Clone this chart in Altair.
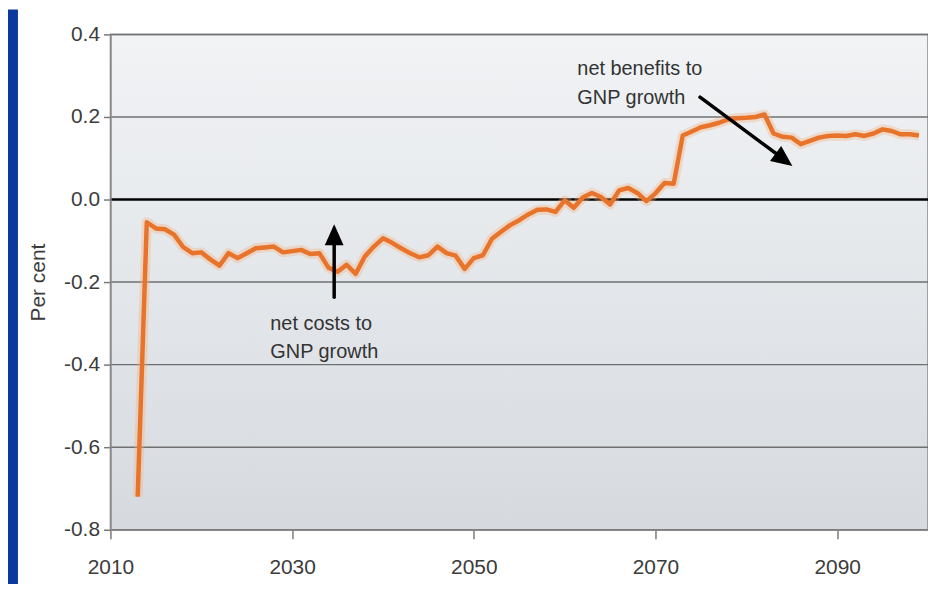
import altair as alt
import pandas as pd

# ---- data ----
years = list(range(2013, 2100))
values = [
    -0.72, -0.055, -0.070, -0.072, -0.085, -0.115, -0.130, -0.128, -0.145, -0.160,  # 2013-2022
    -0.130, -0.142, -0.130, -0.118, -0.116, -0.114, -0.128, -0.125, -0.122, -0.132,  # 2023-2032
    -0.130, -0.165, -0.175, -0.158, -0.180, -0.138, -0.114, -0.094, -0.105, -0.118,  # 2033-2042
    -0.130, -0.140, -0.135, -0.114, -0.130, -0.136, -0.168, -0.142, -0.135, -0.095,  # 2043-2052
    -0.078, -0.062, -0.050, -0.036, -0.025, -0.024, -0.030, -0.002, -0.020, 0.005,   # 2053-2062
    0.016, 0.006, -0.012, 0.022, 0.028, 0.016, -0.004, 0.015, 0.040, 0.038,          # 2063-2072
    0.155, 0.165, 0.175, 0.180, 0.186, 0.194, 0.197, 0.198, 0.200, 0.206,            # 2073-2082
    0.160, 0.152, 0.150, 0.134, 0.142, 0.150, 0.154, 0.155, 0.154, 0.158,            # 2083-2092
    0.154, 0.160, 0.170, 0.166, 0.158, 0.158, 0.155,                                 # 2093-2099
]

x_ticks = [2010, 2030, 2050, 2070, 2090]
y_ticks = [-0.8, -0.6, -0.4, -0.2, 0.0, 0.2, 0.4]
grid_values = [-0.8, -0.6, -0.4, -0.2, 0.2, 0.4]

ann_text = ["net costs to", "GNP growth", "net benefits to", "GNP growth"]
ann_x = [2027.6, 2027.6, 2061.4, 2061.4]
ann_y = [-0.316, -0.383, 0.302, 0.232]

# arrow shafts (start -> end) and heads (tip, rotation)
shaft_x = [2034.63, 2074.9]
shaft_y = [-0.237, 0.248]
shaft_x2 = [2034.63, 2083.8]
shaft_y2 = [-0.098, 0.103]
head_x = [2034.63, 2085.07]
head_y = [-0.060, 0.0815]
head_angle = [0, 126.6]

FONT = "Liberation Sans"
W, H = 822, 498

df = pd.DataFrame({"year": years, "value": values})
df_grid = pd.DataFrame({"g": grid_values})
df_zero = pd.DataFrame({"z": [0.0]})
df_text = pd.DataFrame({"x": ann_x, "y": ann_y, "t": ann_text})
df_shaft = pd.DataFrame({"x": shaft_x, "y": shaft_y, "x2": shaft_x2, "y2": shaft_y2})
df_head = pd.DataFrame({"x": head_x, "y": head_y, "a": head_angle})
df_one = pd.DataFrame({"k": [0]})

x_scale = alt.Scale(domain=[2010, 2100], nice=False, zero=False)
y_scale = alt.Scale(domain=[-0.8, 0.4], nice=False, zero=False)

x_axis = alt.Axis(
    values=x_ticks, format="d", grid=False, title=None,
    tickSize=9, tickColor="#7a7a7a", tickWidth=1.5,
    domainColor="#8a8a8a", domainWidth=1.5,
    labelFont=FONT, labelFontSize=21, labelColor="#3c3c3c", labelPadding=18,
    labelFlush=False, labelOverlap=False,
    zindex=1,
)
y_axis = alt.Axis(
    values=y_ticks, grid=False,
    labelExpr="replace(format(datum.value, '.1f'), '\u2212', '-')",
    tickSize=7, tickColor="#7a7a7a", tickWidth=1.5,
    domainColor="#8a8a8a", domainWidth=1.5,
    labelFont=FONT, labelFontSize=21, labelColor="#3c3c3c", labelPadding=4,
    labelFlush=False, labelOverlap=False,
    title="Per cent", titleFont=FONT, titleFontSize=21, titleFontWeight="normal",
    titleColor="#3c3c3c", titleX=-72, titleY=H / 2, titleAngle=270,
    titleAlign="center", titleBaseline="middle",
    zindex=1,
)

blue_strip = alt.Chart(df_one).mark_rect(color="#0b3a9c").encode(
    x=alt.value(-103), x2=alt.value(-93), y=alt.value(-25), y2=alt.value(560)
)

panel = alt.Chart(df_one).mark_rect(
    fill=alt.LinearGradient(
        gradient="linear", x1=0, y1=0, x2=0, y2=1,
        stops=[alt.GradientStop(offset=0, color="#f1f3f5"),
               alt.GradientStop(offset=1, color="#d6dadf")],
    ),
    stroke="#8a8a8a", strokeWidth=1.5,
).encode(x=alt.value(0), x2=alt.value(W), y=alt.value(0), y2=alt.value(H))

grid = alt.Chart(df_grid).mark_rule(color="#707070", strokeWidth=1.5).encode(
    y=alt.Y("g:Q", scale=y_scale, axis=y_axis)
)

zero = alt.Chart(df_zero).mark_rule(color="#000000", strokeWidth=2.5).encode(
    y=alt.Y("z:Q", scale=y_scale)
)

glow = alt.Chart(df).mark_line(color="#f4b07a", strokeWidth=10, opacity=0.35, strokeJoin="round").encode(
    x=alt.X("year:Q", scale=x_scale, axis=x_axis),
    y=alt.Y("value:Q", scale=y_scale),
)
line = alt.Chart(df).mark_line(color="#e8732a", strokeWidth=4.5, strokeJoin="round").encode(
    x=alt.X("year:Q", scale=x_scale),
    y=alt.Y("value:Q", scale=y_scale),
)

shafts = alt.Chart(df_shaft).mark_rule(color="#000000", strokeWidth=3.5, strokeCap="round").encode(
    x=alt.X("x:Q", scale=x_scale), y=alt.Y("y:Q", scale=y_scale), x2="x2:Q", y2="y2:Q"
)

heads = alt.Chart(df_head).mark_point(
    shape="M0,0 L0.45,1 L-0.45,1 Z", filled=True, color="#000000", size=1764,
    opacity=1, strokeWidth=0,
).encode(
    x=alt.X("x:Q", scale=x_scale), y=alt.Y("y:Q", scale=y_scale),
    angle=alt.Angle("a:Q", scale=None),
)

texts = alt.Chart(df_text).mark_text(
    align="left", baseline="alphabetic", font=FONT, fontSize=20, color="#333333"
).encode(x=alt.X("x:Q", scale=x_scale), y=alt.Y("y:Q", scale=y_scale), text="t:N")

chart = alt.layer(
    blue_strip, panel, grid, zero, glow, line, shafts, heads, texts
).properties(
    width=W, height=H,
    padding={"left": 103, "top": 25, "right": 0, "bottom": 53},
    autosize=alt.AutoSizeParams(type="none"),
    background="white",
).configure_view(stroke=None)

chart.save("out.html", embed_options={"renderer": "svg", "actions": False})
